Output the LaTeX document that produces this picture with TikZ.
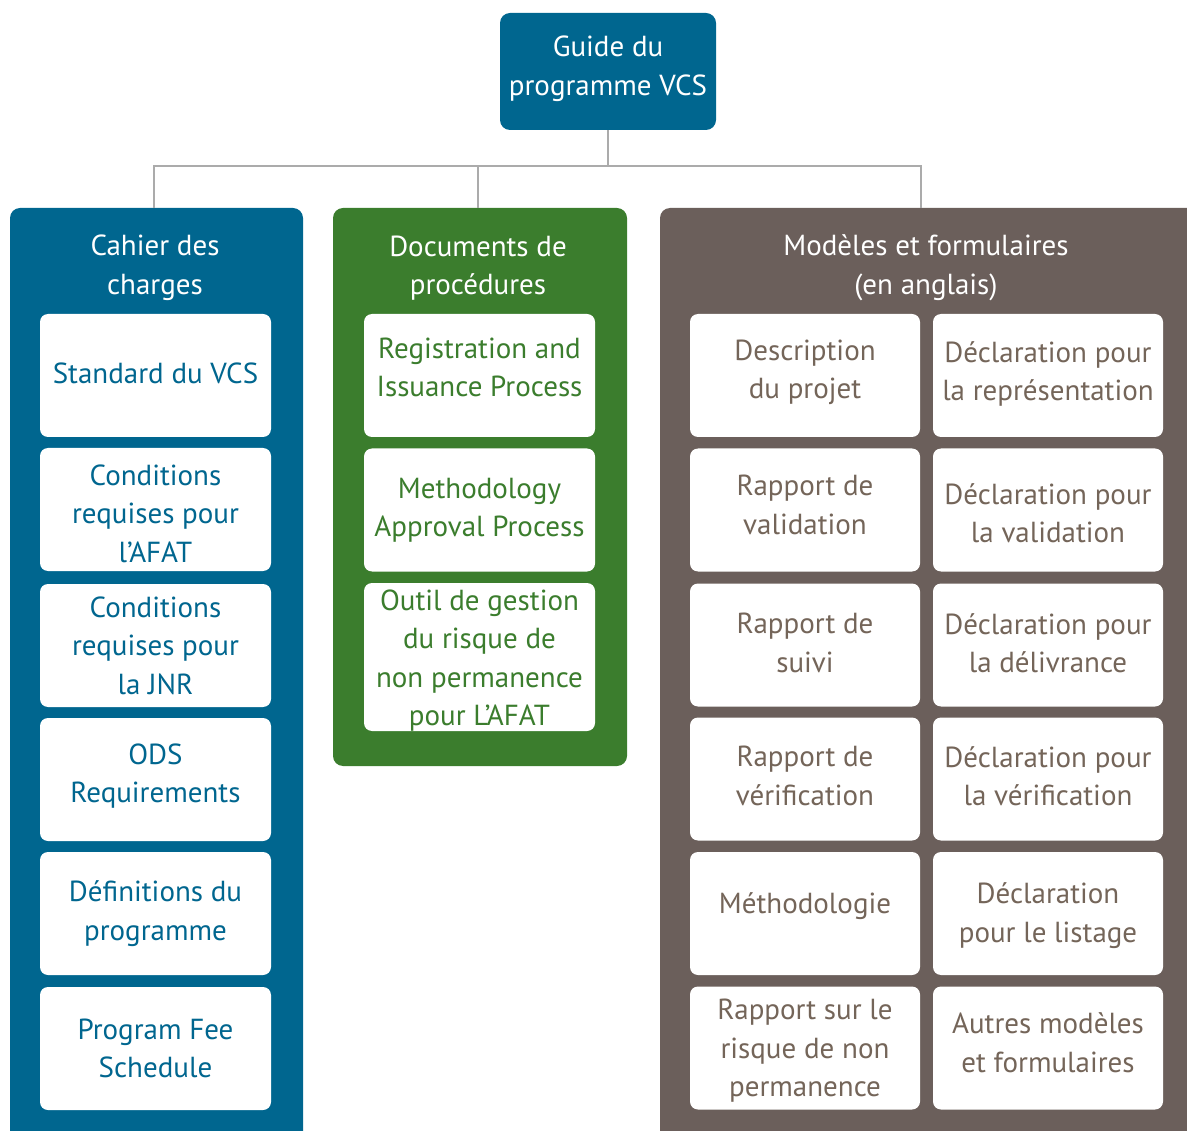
\documentclass[tikz,border=0pt]{standalone}
\usepackage{fontspec}
\setmainfont{PT Sans}
\definecolor{vblue}{HTML}{00668F}
\definecolor{vgreen}{HTML}{3B7D2D}
\definecolor{vbrown}{HTML}{6B5F5B}
\definecolor{tbrown}{HTML}{746559}
\definecolor{cgray}{HTML}{ABABAB}
\newcommand{\itm}[7]{%
  \node[#2] (#1) at (#3,#4) {};
  \node[txt, text=#5] (#1t) at ([yshift=#6]#1.center) {#7};}
\begin{document}
\begin{tikzpicture}[x=1pt,y=-1pt,
  txt/.style={font=\fontsize{29}{38.5}\selectfont, align=center, inner sep=0pt},
  panel/.style={rounded corners=10pt},
  item/.style={fill=white, rounded corners=8pt, minimum width=231pt, minimum height=123pt, inner sep=0pt},
  ritem/.style={item, minimum width=230pt},
  head/.style={txt, text=white},
  conn/.style={draw=cgray, line width=1.8pt}
]
\useasboundingbox (0,0) rectangle (1187,1131);
\clip (0,0) rectangle (1187,1131);
% top
\node[fill=vblue, rounded corners=10pt, minimum width=216pt, minimum height=117pt] (top) at (608,71.5) {};
\node[head] (topt) at (608,69) {Guide du\\programme VCS};
% panels
\fill[vblue, panel] (10,208) rectangle (303,1160);
\fill[vgreen, panel] (333,208) rectangle (627,766);
\fill[vbrown, panel] (660,208) rectangle (1220,1160);
\coordinate (pb) at (154,208);
\coordinate (pg) at (478,208);
\coordinate (pr) at (921,208);
\coordinate (hub) at (608,166);
\draw[conn] (top.south) -- (hub);
\draw[conn] (pb) |- (hub) -| (pr);
\draw[conn] (pg) -- (pg |- hub);
% headers
\node[head] (hb) at (155,268) {Cahier des\\charges};
\node[head] (hg) at (478,268) {Documents de\\procédures};
\node[head] (hr) at (926,268) {Modèles et formulaires\\(en anglais)};
% blue items
\itm{b1}{item}{155.5}{375.5}{vblue}{2pt}{Standard du VCS}
\itm{b2}{item}{155.5}{509.5}{vblue}{-4pt}{Conditions\\requises pour\\l’AFAT}
\itm{b3}{item}{155.5}{645.5}{vblue}{0pt}{Conditions\\requises pour\\la JNR}
\itm{b4}{item}{155.5}{779.5}{vblue}{3.5pt}{ODS\\Requirements}
\itm{b5}{item}{155.5}{913.5}{vblue}{0pt}{Définitions du\\programme}
\itm{b6}{item}{155.5}{1048.5}{vblue}{0pt}{Program Fee\\Schedule}
% green items
\itm{g1}{item}{479.5}{375.5}{vgreen}{8pt}{Registration and\\Issuance Process}
\itm{g2}{item}{479.5}{510}{vgreen}{0pt}{Methodology\\Approval Process}
\itm{g3}{item, minimum height=148pt}{479.5}{657}{vgreen}{-3.5pt}{Outil de gestion\\du risque de\\non permanence\\pour L’AFAT}
% brown items
\itm{r1}{ritem}{805}{375.5}{tbrown}{3pt}{Description\\du projet}
\itm{r2}{ritem}{805}{510}{tbrown}{5pt}{Rapport de\\validation}
\itm{r3}{ritem}{805}{645}{tbrown}{2pt}{Rapport de\\suivi}
\itm{r4}{ritem}{805}{779}{tbrown}{3pt}{Rapport de\\vérification}
\itm{r5}{ritem}{805}{913.5}{tbrown}{7pt}{Méthodologie}
\itm{r6}{ritem}{805}{1048}{tbrown}{-3pt}{Rapport sur le\\risque de non\\permanence}
\itm{s1}{ritem}{1048}{375.5}{tbrown}{1.5pt}{Déclaration pour\\la représentation}
\itm{s2}{ritem}{1048}{510}{tbrown}{-3pt}{Déclaration pour\\la validation}
\itm{s3}{ritem}{1048}{645}{tbrown}{2pt}{Déclaration pour\\la délivrance}
\itm{s4}{ritem}{1048}{779}{tbrown}{3pt}{Déclaration pour\\la vérification}
\itm{s5}{ritem}{1048}{913.5}{tbrown}{-2pt}{Déclaration\\pour le listage}
\itm{s6}{ritem}{1048}{1048}{tbrown}{5.5pt}{Autres modèles\\et formulaires}
\end{tikzpicture}
\end{document}
